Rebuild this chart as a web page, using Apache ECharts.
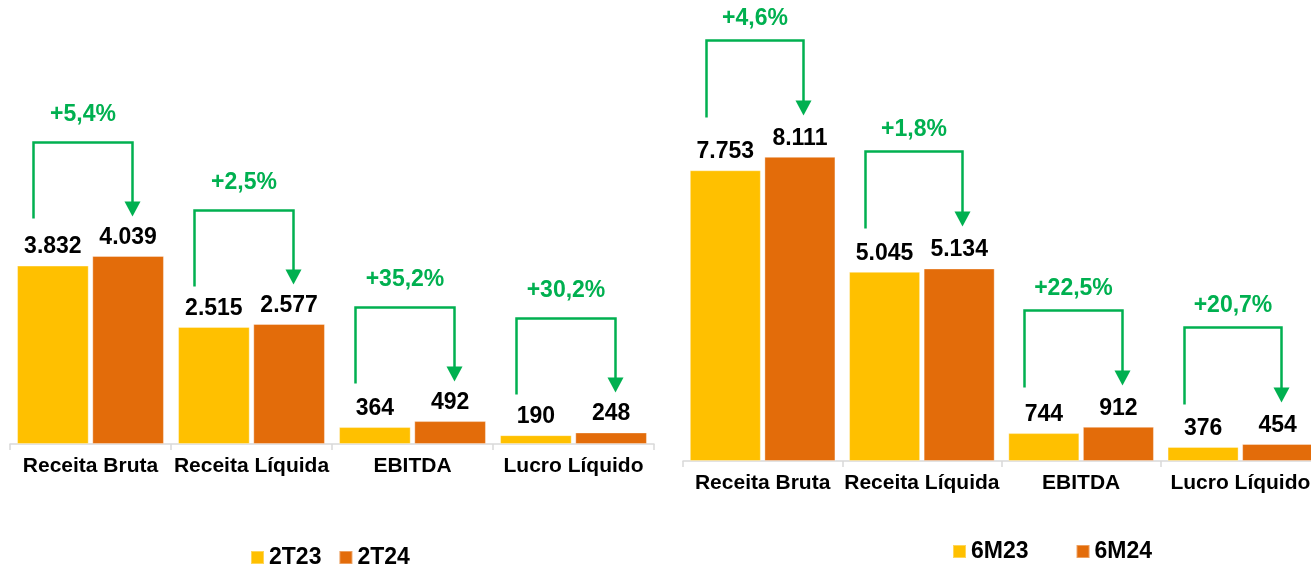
<!doctype html>
<html>
<head>
    <meta http-equiv="Content-Type" content="text/html; charset=utf-8">
    <title>Receita, EBITDA e Lucro</title>
    <script src="https://cdn.jsdelivr.net/npm/echarts@6/dist/echarts.min.js"></script>
    <style>
        html, body { margin: 0; padding: 0; background: #fff; }
        #main { width: 1311px; height: 566px; }
    </style>
</head>
<body>
<div id="main"></div>
<script type="text/javascript">

    // categorias
    var categories = ['Receita Bruta', 'Receita Líquida', 'EBITDA', 'Lucro Líquido'];

    // trimestre
    var serie2T23 = [3832, 2515, 364, 190];
    var serie2T24 = [4039, 2577, 492, 248];
    var growthTri = ['+5,4%', '+2,5%', '+35,2%', '+30,2%'];

    // semestre
    var serie6M23 = [7753, 5045, 744, 376];
    var serie6M24 = [8111, 5134, 912, 454];
    var growthSem = ['+4,6%', '+1,8%', '+22,5%', '+20,7%'];

    var YELLOW = '#FFC000';
    var ORANGE = '#E36C0A';
    var GREEN = '#00B050';
    var FONT = '"Liberation Sans", Arial, sans-serif';

    function fmt(v) {
        return String(v).replace(/\B(?=(\d{3})+(?!\d))/g, '.');
    }

    // seta verde entre as duas barras
    function bracket(labels, off, len, gap) {
        return function (params, api) {
            var i = api.value(0);
            var top = Math.max(api.value(1), api.value(2));
            var c = api.coord([i, top]);
            var bw = api.size([1, 0])[0];
            var x0 = c[0] - bw / 2;
            var xl = Math.round(x0 + bw * 0.143) + 0.5;
            var xr = Math.round(x0 + bw * 0.755) + 0.5;
            var hy = Math.round(c[1] - off) + 0.5;
            var tip = hy + len;
            return {
                type: 'group',
                children: [
                    {
                        type: 'polyline',
                        shape: { points: [[xl, hy + len + 2], [xl, hy], [xr, hy], [xr, tip - 10]] },
                        style: { stroke: GREEN, lineWidth: 2.5, fill: null }
                    },
                    {
                        type: 'polygon',
                        shape: { points: [[xr - 8, tip - 15], [xr + 8, tip - 15], [xr, tip]] },
                        style: { fill: GREEN }
                    },
                    {
                        type: 'text',
                        style: {
                            text: labels[params.dataIndex],
                            x: (xl + xr) / 2,
                            y: hy - gap,
                            align: 'center',
                            verticalAlign: 'bottom',
                            fill: GREEN,
                            font: 'bold 23px ' + FONT
                        }
                    }
                ]
            };
        };
    }

    function bars(name, data, color, idx, bw) {
        return {
            name: name,
            type: 'bar',
            xAxisIndex: idx,
            yAxisIndex: idx,
            data: data,
            barWidth: bw,
            barGap: '5%',
            itemStyle: { color: color, borderColor: 'rgba(255,255,255,0.35)', borderWidth: 1 },
            label: {
                show: true,
                position: 'top',
                distance: 7,
                color: '#000',
                fontFamily: FONT,
                fontWeight: 'bold',
                fontSize: 23,
                formatter: function (p) { return fmt(p.value); }
            }
        };
    }

    function pairs(a, b) {
        var out = [];
        for (var i = 0; i < a.length; i++) out.push([i, a[i], b[i]]);
        return out;
    }

    var xAxisBase = {
        type: 'category',
        data: categories,
        axisLine: { lineStyle: { color: '#D9D9D9', width: 1.5 } },
        axisTick: { show: true, length: 6, lineStyle: { color: '#D9D9D9', width: 1.5 } },
        axisLabel: { color: '#000', fontFamily: FONT, fontWeight: 'bold', fontSize: 21, margin: 12, interval: 0 }
    };

    var legendText = { color: '#000', fontFamily: FONT, fontWeight: 'bold', fontSize: 23 };

    var myChart = echarts.init(document.getElementById('main'));
    var option = {
        backgroundColor: '#fff',
        animation: false,
        grid: [
            { left: 10, width: 644, top: 25, bottom: 122, outerBoundsMode: 'none' },
            { left: 683, width: 637, top: 11, bottom: 105, outerBoundsMode: 'none' }
        ],
        xAxis: [
            Object.assign({ gridIndex: 0 }, xAxisBase),
            Object.assign({ gridIndex: 1 }, xAxisBase)
        ],
        yAxis: [
            { gridIndex: 0, type: 'value', min: 0, max: 9000, show: false },
            { gridIndex: 1, type: 'value', min: 0, max: 12000, show: false }
        ],
        legend: [
            {
                data: ['2T23', '2T24'],
                left: 250, top: 546, padding: 0,
                itemWidth: 13, itemHeight: 13, itemGap: 17,
                icon: 'rect',
                textStyle: legendText
            },
            {
                data: ['6M23', '6M24'],
                left: 952, top: 540, padding: 0,
                itemWidth: 13, itemHeight: 13, itemGap: 47,
                icon: 'rect',
                textStyle: legendText
            }
        ],
        series: [
            bars('2T23', serie2T23, YELLOW, 0, '44.5%'),
            bars('2T24', serie2T24, ORANGE, 0, '44.5%'),
            bars('6M23', serie6M23, YELLOW, 1, '44.6%'),
            bars('6M24', serie6M24, ORANGE, 1, '44.6%'),
            {
                type: 'custom',
                xAxisIndex: 0,
                yAxisIndex: 0,
                data: pairs(serie2T23, serie2T24),
                renderItem: bracket(growthTri, 114, 74, 16),
                z: 10
            },
            {
                type: 'custom',
                xAxisIndex: 1,
                yAxisIndex: 1,
                data: pairs(serie6M23, serie6M24),
                renderItem: bracket(growthSem, 117, 75, 10),
                z: 10
            }
        ]
    };

    myChart.setOption(option);

</script>
</body>
</html>
